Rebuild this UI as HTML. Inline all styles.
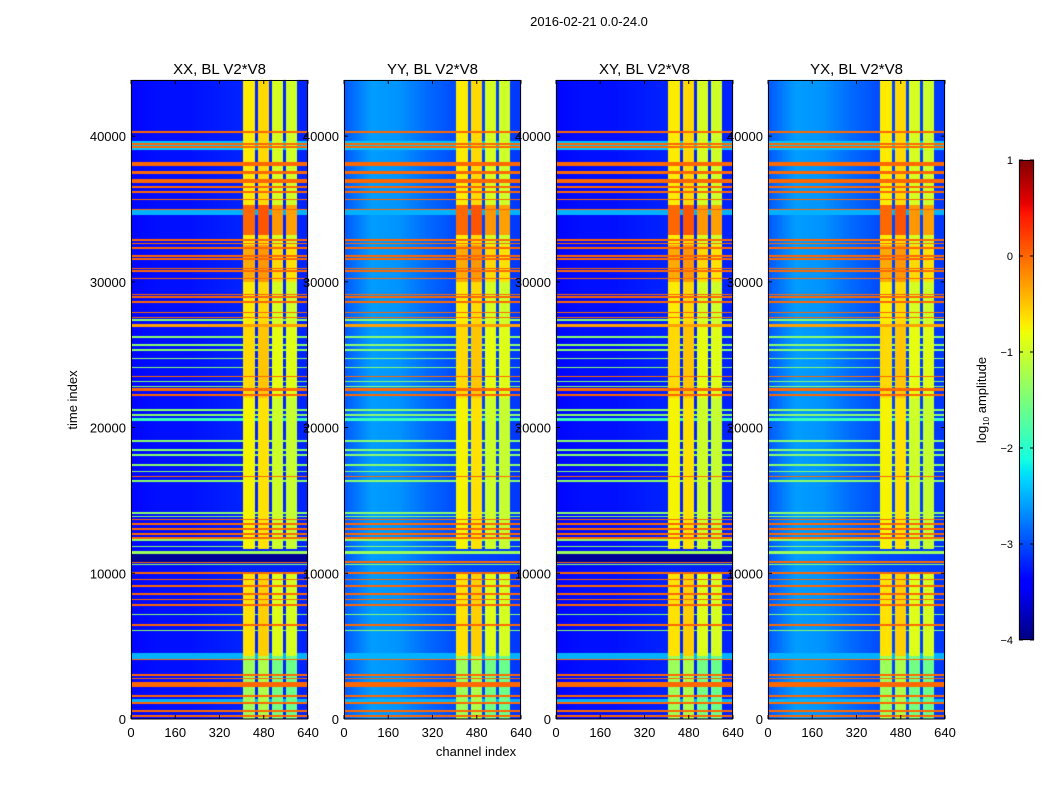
<!DOCTYPE html>
<html><head><meta charset="utf-8">
<style>
html,body{margin:0;padding:0;background:#fff;}
#wrap{position:relative;width:1050px;height:800px;overflow:hidden;font-family:"Liberation Sans",sans-serif;}
canvas{position:absolute;left:0;top:0;}
svg{position:absolute;left:0;top:0;}
</style></head>
<body>
<div id="wrap">
<canvas id="cv" width="1050" height="800"></canvas>
<svg id="sv" width="1050" height="800"></svg>
</div>
<script>
// ---- data ----
const panelTitles = ["XX, BL V2*V8","YY, BL V2*V8","XY, BL V2*V8","YX, BL V2*V8"];
const xTicks = [0,160,320,480,640];
const yTicks = [0,10000,20000,30000,40000];
const cbTicks = [-4,-3,-2,-1,0,1];
// horizontal RFI lines: time index, width (time units), log10 amplitude
const lineT = [40270,39470,39245,38100,37530,36895,36505,36160,35660,34950,32855,32620,32330,31780,31550,30910,30750,30225,29130,28950,28630,27895,27555,27030,23490,22580,22240,16640,13680,13375,13035,12690,12420,10775,10020,9570,9110,8580,8200,7810,6440,4090,3015,2790,2485,2280,1575,1115,550,205,
 27375,26230,25660,25320,24745,24110,23150,22805,21210,20870,20525,19090,18470,18130,17445,16985,16300,14130,13905,12310,11850,11405,10595,7170,6075];
const lineW = [110,110,110,280,200,280,110,110,110,110,110,110,110,110,110,110,110,110,110,110,110,110,110,200,110,200,110,110,110,110,110,110,110,110,110,110,110,110,110,110,110,110,110,110,110,200,110,110,110,110,
 110,110,110,110,110,110,110,110,110,110,200,110,110,110,110,110,140,110,110,200,110,200,110,110,110];
const lineV = [0,0,0,0,0,0,0,0,0,0,0,0,0,0,0,0,0,0,0,0,0,0,0,-0.3,0,0,0,0,0,0,0,0,0,0,0,0,0,0,0,0,0,0,0,0,0,0,0,0,0,0,
 -1.4,-1.4,-1.4,-1.4,-1.4,-1.4,-1.4,-1.4,-1.4,-1.4,-1.9,-1.4,-1.4,-1.4,-1.4,-1.4,-1.4,-1.4,-1.4,-1.4,-1.4,-1.3,-1.4,-1.4,-1.4];
// broad faint bands (outside stripes)
const bandT0 = [39050,34600,4150,1100];
const bandT1 = [39650,35000,4500,1350];
const bandV = [-2.4,-2.5,-2.5,-2.5];
// navy dropout band (XX, XY)
const navyT0 = 10750, navyT1 = 11300;
// vertical bright channel stripes
const stripeC0 = [406,459,510,560];
const stripeC1 = [449,499,550,600];
const stripeOff = [0.1,0.2,-0.15,-0.2];
// stripe amplitude by time segment
const segT0 = [0,4300,10000,11640,22000,27000,30000,32500,33200,35300];
const segT1 = [4300,10000,11640,22000,27000,30000,32500,33200,35300,43850];
const segV  = [-1.4,-0.75,-9,-0.85,-0.7,-0.8,-0.45,-0.8,-0.1,-0.8];
// background level by channel (parallel-hand vs cross-hand panels)
const bgCh = [0,100,200,300,400,640];
const bgA  = [-3.35,-3.3,-3.3,-3.25,-3.2,-3.2];
const bgB  = [-2.95,-2.6,-2.65,-2.85,-3.0,-3.1];
const panelBg = ["A","B","A","B"];

// ---- layout ----
const PX=[131,344,556,768], PW=177, PT=80, PB=719, TMAX=43850, CMAX=640;
const tY = t => PB - t/TMAX*(PB-PT);
const cX = (p,c) => PX[p] + c/CMAX*PW;
const VMIN=-4,VMAX=1;
function interp(pts,x){for(let i=1;i<pts.length;i++){if(x<=pts[i][0]){const a=pts[i-1],b=pts[i];return a[1]+(b[1]-a[1])*(x-a[0])/(b[0]-a[0]);}}return pts[pts.length-1][1];}
function jet(v){let f=(v-VMIN)/(VMAX-VMIN);f=Math.max(0,Math.min(1,f));
 const r=interp([[0,0],[0.35,0],[0.66,1],[0.89,1],[1,0.5]],f);
 const g=interp([[0,0],[0.125,0],[0.375,1],[0.64,1],[0.91,0],[1,0]],f);
 const b=interp([[0,0.5],[0.11,1],[0.34,1],[0.65,0],[1,0]],f);
 return [r*255|0,g*255|0,b*255|0];}
function bgAt(p,c){const arr=panelBg[p]==="A"?bgA:bgB;for(let i=1;i<bgCh.length;i++){if(c<=bgCh[i]){return arr[i-1]+(arr[i]-arr[i-1])*(c-bgCh[i-1])/(bgCh[i]-bgCh[i-1]);}}return arr[arr.length-1];}
function value(p,t,c){
 let v=bgAt(p,c);
 let inStripe=-1;
 for(let s=0;s<stripeC0.length;s++) if(c>=stripeC0[s]&&c<stripeC1[s]) inStripe=s;
 if(inStripe>=0){for(let k=0;k<segT0.length;k++) if(t>=segT0[k]&&t<segT1[k]&&segV[k]>-5) v=Math.max(v,segV[k]+stripeOff[inStripe]);}
 else{for(let k=0;k<bandT0.length;k++) if(t>=bandT0[k]&&t<bandT1[k]) v=Math.max(v,bandV[k]);}
 for(let k=0;k<lineT.length;k++) if(Math.abs(t-lineT[k])<=lineW[k]/2) v=Math.max(v,lineV[k]);
 if(panelBg[p]==="A"&&t>=navyT0&&t<navyT1) v=-3.9;
 return v;}
// ---- render heatmaps ----
const cv=document.getElementById('cv'),ctx=cv.getContext('2d');
const img=ctx.createImageData(1050,800);
for(let p=0;p<4;p++){
 for(let y=PT;y<PB;y++){const t=(PB-y-0.5)/(PB-PT)*TMAX;
  for(let x=PX[p];x<PX[p]+PW;x++){const c=(x-PX[p]+0.5)/PW*CMAX;
   const col=jet(value(p,t,c));const i=(y*1050+x)*4;
   img.data[i]=col[0];img.data[i+1]=col[1];img.data[i+2]=col[2];img.data[i+3]=255;}}}
// colorbar
for(let y=160;y<640;y++){const v=VMAX-(y-160+0.5)/480*(VMAX-VMIN);const col=jet(v);
 for(let x=1019;x<1034;x++){const i=(y*1050+x)*4;img.data[i]=col[0];img.data[i+1]=col[1];img.data[i+2]=col[2];img.data[i+3]=255;}}
ctx.putImageData(img,0,0);

// ---- overlay ----
const NS="http://www.w3.org/2000/svg",sv=document.getElementById('sv');
function el(tag,attrs,txt){const e=document.createElementNS(NS,tag);for(const k in attrs)e.setAttribute(k,attrs[k]);if(txt!==undefined)e.textContent=txt;sv.appendChild(e);return e;}
const fmt=v=>String(v).replace('-','\u2212');
const sup=el('text',{x:589,y:26,'font-size':13,'text-anchor':'middle'},'2016-02-21 0.0-24.0');


for(let p=0;p<4;p++){
 const fr=el('rect',{x:PX[p]+0.5,y:PT+0.5,width:PW-1,height:PB-PT-0.5,fill:'none',stroke:'#000','stroke-width':1});
 
 
 const tt=el('text',{x:PX[p]+PW/2,y:74,'font-size':15,'text-anchor':'middle'},panelTitles[p]);
 
 
 for(const c of xTicks){const x=cX(p,c);
  el('line',{x1:x,y1:PB,x2:x,y2:PB-4,stroke:'#000'});
  el('line',{x1:x,y1:PT,x2:x,y2:PT+4,stroke:'#000'});
  const tl=el('text',{x:x,y:PB+18,'font-size':13,'text-anchor':'middle'},String(c));
  
  }
 for(const t of yTicks){const y=tY(t);
  el('line',{x1:PX[p],y1:y,x2:PX[p]+4,y2:y,stroke:'#000'});
  el('line',{x1:PX[p]+PW,y1:y,x2:PX[p]+PW-4,y2:y,stroke:'#000'});
  const tl=el('text',{x:PX[p]-5,y:y+5,'font-size':13,'text-anchor':'end'},String(t));
  
  }
}
const yl=el('text',{x:77,y:400,'font-size':13,'text-anchor':'middle',transform:'rotate(-90 77 400)'},'time index');


const xl=el('text',{x:476,y:756,'font-size':13,'text-anchor':'middle'},'channel index');


// colorbar frame & ticks
const cbf=el('rect',{x:1019.5,y:160.5,width:14,height:479,fill:'none',stroke:'#000'});


for(const v of cbTicks){const y=160+(VMAX-v)/(VMAX-VMIN)*480;
 el('line',{x1:1019,y1:y,x2:1023,y2:y,stroke:'#000'});
 el('line',{x1:1034,y1:y,x2:1030,y2:y,stroke:'#000'});
 const tl=el('text',{x:1013,y:y+4,'font-size':11,'text-anchor':'end'},fmt(v));
 
 }
const cl=el('text',{x:986,y:400,'font-size':13,'text-anchor':'middle',transform:'rotate(-90 986 400)'});


const t1=document.createElementNS(NS,'tspan');t1.textContent='log';cl.appendChild(t1);
const t2=document.createElementNS(NS,'tspan');t2.setAttribute('font-size','8');t2.setAttribute('dy','3');t2.textContent='10';cl.appendChild(t2);
const t3=document.createElementNS(NS,'tspan');t3.setAttribute('dy','-3');t3.textContent=' amplitude';cl.appendChild(t3);
</script>
</body></html>
